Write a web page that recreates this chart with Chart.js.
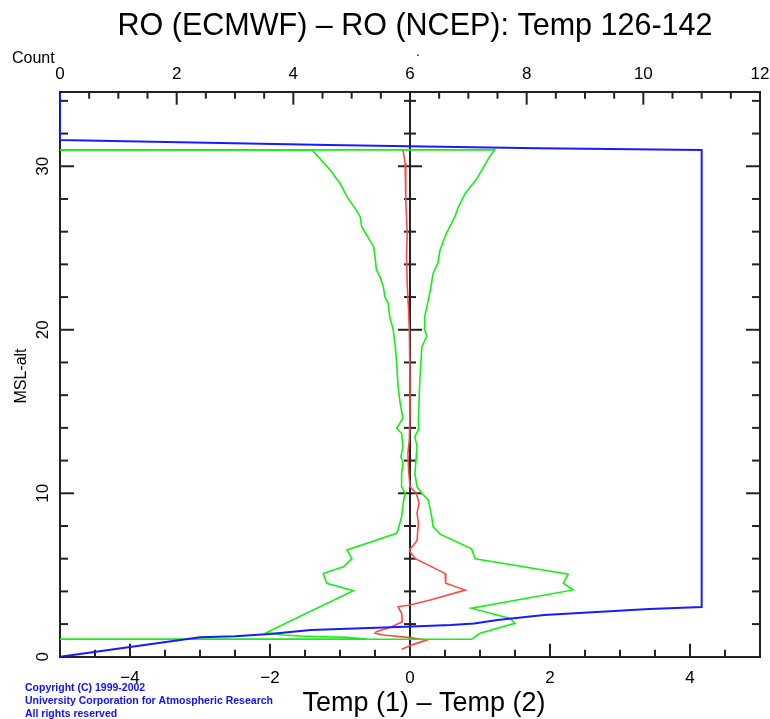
<!DOCTYPE html>
<html><head><meta charset="utf-8">
<script src="https://cdn.jsdelivr.net/npm/chart.js@4.4.1/dist/chart.umd.min.js"></script>
<style>html,body{margin:0;padding:0;background:#fff;}#wrap{position:relative;width:770px;height:719px;}</style>
</head><body><div id="wrap"><canvas id="c" width="770" height="719"></canvas></div>
<script>
// ---- text ----
const titleText = 'RO (ECMWF) \u2013 RO (NCEP): Temp 126-142';
const xTitle = 'Temp (1) \u2013 Temp (2)';
const yTitle = 'MSL-alt';
const topTitle = 'Count';
const copyrightLines = ['Copyright (C) 1999-2002', 'University Corporation for Atmospheric Research', 'All rights reserved'];

// ---- tick labels ----
const tempTicks = [-4, -2, 0, 2, 4];
const countTicks = [0, 2, 4, 6, 8, 10, 12];
const altTicks = [0, 10, 20, 30];
const tempRange = [-5, 5];
const countRange = [0, 12];
const altRange = [0, 34.56];

// ---- blue: number of profiles (top axis) vs altitude ----
const countAlt = [34.5, 31.6, 31.55, 31.3, 31.1, 31.0, 3.05, 2.92, 2.8, 2.68, 2.56, 2.25, 2.04, 1.94, 1.82, 1.76, 1.64, 1.39, 1.25, 1.2, 0.6, 0.0];
const countVal = [0, 0, 0.9, 4.6, 8.2, 11.0, 11.0, 10.1, 9.5, 8.9, 8.3, 7.5, 7.1, 6.7, 5.8, 5.3, 4.3, 3.6, 3.0, 2.4, 1.2, 0];

// ---- red: mean difference ----
const meanAlt = [31.0, 30.2, 27.9, 25.9, 24.5, 22.8, 21.2, 20.0, 17.0, 15.0, 13.25, 12.45, 11.4, 10.4, 10.0, 9.4, 8.8, 8.2, 7.1, 6.57, 6.49, 6.02, 5.1, 4.5, 4.08, 3.47, 3.17, 3.06, 2.66, 2.15, 1.84, 1.54, 1.44, 1.33, 1.17, 1.03, 0.76, 0.46];
const meanTemp = [-0.1, -0.07, -0.06, -0.04, -0.05, -0.04, -0.02, -0.01, 0.0, 0.0, -0.01, -0.03, -0.02, 0.0, 0.09, 0.13, 0.1, 0.12, 0.1, 0.0, -0.01, 0.07, 0.5, 0.51, 0.79, 0.29, 0.0, -0.17, -0.12, -0.11, -0.26, -0.48, -0.5, -0.38, 0.0, 0.24, 0.05, -0.12];

// ---- green: mean - std ----
const lowAlt = [31.0, 31.0, 29.77, 28.96, 28.14, 27.33, 26.9, 26.3, 25.08, 24.47, 23.66, 23.25, 22.64, 22.0, 21.6, 20.8, 20.0, 18.97, 17.95, 16.5, 15.5, 14.59, 13.98, 13.67, 12.85, 12.24, 11.83, 11.22, 10.4, 10.0, 9.6, 8.57, 7.76, 7.55, 6.53, 6.0, 5.5, 5.1, 4.5, 4.04, 1.48, 1.33, 1.27, 1.23, 1.19, 1.09, 1.07];
const lowTemp = [-5, -1.4, -1.14, -1.0, -0.9, -0.77, -0.71, -0.69, -0.52, -0.5, -0.48, -0.43, -0.38, -0.36, -0.31, -0.29, -0.24, -0.21, -0.19, -0.17, -0.14, -0.1, -0.19, -0.12, -0.1, -0.13, -0.1, -0.12, -0.12, -0.07, -0.09, -0.12, -0.17, -0.19, -0.9, -0.83, -0.95, -1.24, -1.19, -0.81, -2.05, -1.81, -1.57, -1.24, -0.9, -0.62, -5];

// ---- green: mean + std ----
const highAlt = [31.0, 31.0, 30.6, 29.2, 28.35, 27.5, 26.9, 25.9, 24.9, 24.1, 23.45, 22.4, 21.8, 20.8, 20.0, 19.6, 18.97, 16.9, 14.5, 13.9, 13.46, 12.85, 12.24, 11.2, 10.4, 10.0, 9.6, 8.57, 7.96, 7.5, 6.6, 6.0, 5.65, 5.2, 5.05, 4.5, 4.09, 2.97, 2.35, 2.05, 1.44, 1.07, 1.07];
const highTemp = [-5, 1.21, 1.14, 0.95, 0.79, 0.69, 0.64, 0.52, 0.43, 0.4, 0.33, 0.29, 0.26, 0.21, 0.21, 0.24, 0.17, 0.14, 0.12, 0.12, 0.07, 0.1, 0.09, 0.07, 0.1, 0.17, 0.26, 0.31, 0.33, 0.43, 0.88, 0.93, 1.43, 2.05, 2.26, 2.19, 2.33, 0.88, 1.43, 1.5, 1.0, 0.88, -5];

// minor tick spacing
const tempMinorStep = 0.5, countMinorStep = 0.5, altMinorStep = 2;

const pts = (xs, ys) => xs.map((x, i) => ({ x: x, y: ys[i] }));
const FONT = 'Liberation Sans';
const AXC = '#222';
const minus = v => (v < 0 ? '\u2212' + Math.abs(v) : String(v));

const framePlugin = {
  id: 'frame',
  beforeDatasetsDraw(chart) {
    const c = chart.ctx, a = chart.chartArea;
    const sx = chart.scales.x, st = chart.scales.xTop, sy = chart.scales.y;
    c.save();
    c.strokeStyle = AXC; c.lineWidth = 2; c.lineCap = 'butt';
    const line = (x1, y1, x2, y2) => { c.beginPath(); c.moveTo(x1, y1); c.lineTo(x2, y2); c.stroke(); };
    for (let v = tempRange[0] + tempMinorStep; v < tempRange[1] - 1e-9; v += tempMinorStep) {
      const px = sx.getPixelForValue(v);
      const major = Math.abs(v % 2) < 1e-9;
      line(px, a.bottom, px, a.bottom - (major ? 13 : 7));
    }
    for (let v = countRange[0] + countMinorStep; v < countRange[1] - 1e-9; v += countMinorStep) {
      const px = st.getPixelForValue(v);
      const major = Math.abs(v % 2) < 1e-9;
      line(px, a.top, px, a.top + (major ? 13 : 7));
    }
    const x0 = sx.getPixelForValue(0);
    line(x0, a.top, x0, a.bottom);
    for (let v = altMinorStep; v < altRange[1]; v += altMinorStep) {
      const py = sy.getPixelForValue(v);
      const major = v % 10 === 0;
      line(a.left, py, a.left + (major ? 14 : 8), py);
      line(a.right, py, a.right - (major ? 14 : 8), py);
      const h = major ? 12 : 6;
      line(x0 - h, py, x0 + h, py);
    }
    c.restore();
  },
  afterDraw(chart) {
    const c = chart.ctx;
    c.save();
    c.fillStyle = '#000';
    c.textAlign = 'center'; c.textBaseline = 'middle';
    c.font = '30.5px "' + FONT + '"';
    c.fillText(titleText, 415, 27);
    c.font = '27px "' + FONT + '"';
    c.fillText(xTitle, 424, 704);
    c.textAlign = 'left';
    c.font = '16px "' + FONT + '"';
    c.fillText(topTitle, 12, 59);
    c.font = '14px "' + FONT + '"';
    c.fillText('.', 416, 52);
    c.save();
    c.translate(22, 376); c.rotate(-Math.PI / 2);
    c.textAlign = 'center';
    c.font = '16px "' + FONT + '"';
    c.fillText(yTitle, 0, 0);
    c.restore();
    c.fillStyle = '#1010ff';
    c.font = 'bold 10.5px "' + FONT + '"';
    copyrightLines.forEach((t, i) => c.fillText(t, 25, 688 + i * 13));
    c.restore();
  }
};

const noPadH = s => { s.paddingLeft = 0; s.paddingRight = 0; };
const noPadV = s => { s.paddingTop = 0; s.paddingBottom = 0; };
const tickFont = { family: FONT, size: 17 };
new Chart(document.getElementById('c'), {
  type: 'scatter',
  data: {
    datasets: [
      { label: 'Count', data: pts(countVal, countAlt), xAxisID: 'xTop', yAxisID: 'y', showLine: true, borderColor: '#1a1aff', borderWidth: 2, pointRadius: 0 },
      { label: 'Mean - SD', data: pts(lowTemp, lowAlt), xAxisID: 'x', yAxisID: 'y', showLine: true, borderColor: '#14f014', borderWidth: 1.6, pointRadius: 0 },
      { label: 'Mean + SD', data: pts(highTemp, highAlt), xAxisID: 'x', yAxisID: 'y', showLine: true, borderColor: '#14f014', borderWidth: 1.6, pointRadius: 0 },
      { label: 'Mean', data: pts(meanTemp, meanAlt), xAxisID: 'x', yAxisID: 'y', showLine: true, borderColor: '#ff4848', borderWidth: 1.6, pointRadius: 0 }
    ]
  },
  options: {
    responsive: false, animation: false, devicePixelRatio: 1,
    layout: { padding: 0 },
    plugins: { legend: { display: false }, tooltip: { enabled: false }, title: { display: false } },
    scales: {
      x: {
        type: 'linear', position: 'bottom', min: tempRange[0], max: tempRange[1],
        afterBuildTicks: s => { s.ticks = tempTicks.map(v => ({ value: v })); },
        afterFit: s => { s.height = 62.2; noPadH(s); },
        grid: { display: false, drawTicks: false },
        border: { display: true, color: AXC, width: 2 },
        ticks: { padding: 11, color: '#000', font: tickFont, maxRotation: 0, autoSkip: false, callback: v => minus(v) }
      },
      xTop: {
        type: 'linear', position: 'top', min: countRange[0], max: countRange[1],
        afterBuildTicks: s => { s.ticks = countTicks.map(v => ({ value: v })); },
        afterFit: s => { s.height = 91.7; noPadH(s); },
        grid: { display: false, drawTicks: false },
        border: { display: true, color: AXC, width: 2 },
        ticks: { padding: 7, color: '#000', font: tickFont, maxRotation: 0, autoSkip: false, callback: v => String(v) }
      },
      y: {
        type: 'linear', position: 'left', min: altRange[0], max: altRange[1],
        afterBuildTicks: s => { s.ticks = altTicks.map(v => ({ value: v })); },
        afterFit: s => { s.width = 60; noPadV(s); },
        grid: { display: false, drawTicks: false },
        border: { display: true, color: AXC, width: 2 },
        ticks: { padding: 7, color: '#000', font: tickFont, minRotation: 90, maxRotation: 90, crossAlign: 'center', autoSkip: false, callback: v => String(v) }
      },
      yR: {
        type: 'linear', position: 'right', min: altRange[0], max: altRange[1],
        afterFit: s => { s.width = 10; noPadV(s); },
        grid: { display: false, drawTicks: false },
        border: { display: true, color: AXC, width: 2 },
        ticks: { display: false }
      }
    }
  },
  plugins: [framePlugin]
});
</script></body></html>
